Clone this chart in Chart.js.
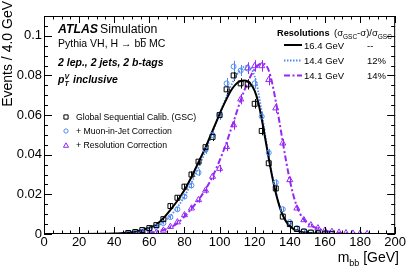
<!DOCTYPE html>
<html><head><meta charset="utf-8">
<script src="https://cdn.jsdelivr.net/npm/chart.js@4/dist/chart.umd.min.js"></script>
<style>html,body{margin:0;padding:0;background:#fff;}canvas{display:block;}</style>
</head><body>
<canvas id="c" width="407" height="276"></canvas>
<script>
// ---- data ----
const binCenters = [48,52,56,60,64,68,72,76,80,84,88,92,96,100,104,108,112,116,120,124,128,132,136,140,144,148,152,156,160,164,168,172,176,180,184];
const gscPoints = [0.0005,0.0010,0.0020,0.0030,0.0045,0.0075,0.0141,0.0183,0.0239,0.0300,0.0365,0.0438,0.0490,0.0600,0.0730,0.0800,0.0760,0.0755,0.0657,0.0520,0.0357,0.0230,0.0088,0.0050,0.0025,0.0012,0.0007,0.0004,0.0002,0.0001,null,null,null,null,null];
const gscErrors = [0.0002,0.0003,0.0004,0.0005,0.0006,0.0008,0.0011,0.0012,0.0014,0.0016,0.0018,0.0020,0.0021,0.0023,0.0026,0.0027,0.0026,0.0026,0.0024,0.0022,0.0018,0.0015,0.0009,0.0007,0.0005,0.0003,0.0002,0.0002,0.0001,0.0001,null,null,null,null,null];
const muonPoints = [0.0003,0.0006,0.0012,0.0020,0.0037,0.0055,0.0085,0.0125,0.0189,0.0245,0.0310,0.0424,0.0500,0.0600,0.0760,0.0845,0.0825,0.0835,0.0760,0.0593,0.0410,0.0260,0.0125,0.0060,0.0030,0.0015,0.0008,0.0004,0.0002,0.0001,null,null,null,null,null];
const muonErrors = [0.0002,0.0002,0.0003,0.0004,0.0006,0.0007,0.0009,0.0011,0.0013,0.0015,0.0017,0.0020,0.0022,0.0024,0.0027,0.0029,0.0028,0.0028,0.0027,0.0024,0.0020,0.0016,0.0011,0.0008,0.0005,0.0004,0.0003,0.0002,0.0001,0.0001,null,null,null,null,null];
const resoPoints = [null,null,0.0002,0.0004,0.0008,0.0018,0.0037,0.0060,0.0096,0.0130,0.0172,0.0220,0.0290,0.0330,0.0440,0.0550,0.0680,0.0837,0.0848,0.0848,0.0778,0.0635,0.0458,0.0273,0.0130,0.0071,0.0045,0.0030,0.0018,0.0012,0.0008,0.0005,0.0003,0.0002,0.0001];
const resoErrors = [null,null,0.0001,0.0002,0.0003,0.0004,0.0006,0.0008,0.0010,0.0012,0.0014,0.0016,0.0018,0.0019,0.0022,0.0024,0.0026,0.0029,0.0029,0.0029,0.0028,0.0025,0.0021,0.0016,0.0011,0.0008,0.0006,0.0005,0.0004,0.0003,0.0003,0.0002,0.0002,0.0001,0.0001];

const fitX = [0,20,40,44,48,52,56,60,64,68,72,76,80,84,88,92,96,100,102,104,106,108,110,112,114,116,118,120,122,124,126,128,130,132,134,136,138,140,142,144,146,148,152,156,160,166,172,180,200];
const gscFit = [0,0,0.0002,0.0004,0.0007,0.0012,0.0021,0.0032,0.0048,0.0080,0.0122,0.0168,0.0222,0.0288,0.0362,0.0437,0.0522,
  0.0605,0.0645,0.0682,0.0716,0.0743,0.0762,0.0772,0.0775,0.0770,0.0754,0.0722,0.0665,0.0580,0.0482,0.0382,0.0288,0.0208,0.0143,0.0094,0.0061,0.0040,0.0026,0.0017,0.0012,
  0.0008,0.0004,0.0002,0.0001,0,0,0,0];
const muonFit = [0,0,0.0001,0.0002,0.0004,0.0008,0.0014,0.0024,0.0038,0.0060,0.0092,0.0135,0.0190,0.0258,0.0335,0.0418,0.0512,
  0.0605,0.0650,0.0695,0.0737,0.0775,0.0806,0.0830,0.0845,0.0848,0.0835,0.0795,0.0720,0.0615,0.0500,0.0392,0.0295,0.0213,0.0148,0.0098,0.0065,0.0043,0.0028,0.0018,0.0013,
  0.0008,0.0004,0.0002,0.0001,0,0,0,0];
const resoFit = [0,0,0,0,0.0001,0.0002,0.0004,0.0007,0.0012,0.0020,0.0033,0.0055,0.0088,0.0128,0.0172,0.0225,0.0290,
  0.0370,0.0415,0.0462,0.0515,0.0568,0.0622,0.0675,0.0722,0.0765,0.0802,0.0832,0.0852,0.0860,0.0855,0.0825,0.0760,0.0670,0.0570,0.0465,0.0362,0.0272,0.0197,0.0140,0.0100,
  0.0073,0.0043,0.0027,0.0016,0.0008,0.0004,0.0001,0];

const seriesLabels = ['Global Sequential Calib. (GSC)','+ Muon-in-Jet Correction','+ Resolution Correction'];
const resolutionValues = ['16.4 GeV','14.4 GeV','14.1 GeV'];
const resolutionGains = ['--','12%','14%'];
const xTickStep = 20, yTickStep = 0.02;

// ---- styling ----
const FONT = '"Liberation Sans", Arial, Helvetica, sans-serif';
const BLACK = '#000000', BLUE = 'rgb(80,140,240)', VIOLET = 'rgb(150,40,245)';
const pts = (xs, ys) => xs.map((x, i) => ({x, y: ys[i]}));

function markerDs(label, ys, errs, color, style, r) {
  return {label, type:'line', data: pts(binCenters, ys), errs, showLine:false,
    borderColor: color, backgroundColor:'rgba(0,0,0,0)', pointStyle: style, pointRadius: r,
    pointBorderWidth: 1, pointBorderColor: color, pointBackgroundColor:'rgba(0,0,0,0)', order: 1};
}
function fitDs(ys, color, dash, w) {
  return {type:'line', data: pts(fitX, ys), borderColor: color, borderWidth: w, borderDash: dash,
    pointRadius: 0, fill:false, cubicInterpolationMode:'monotone', order: 2};
}

function drawMarker(ctx, style, x, y, r, color) {
  ctx.save(); ctx.strokeStyle = color; ctx.lineWidth = 1; ctx.beginPath();
  if (style === 'rect') { const s = Math.SQRT1_2 * r; ctx.rect(x - s, y - s, 2 * s, 2 * s); }
  else if (style === 'circle') { ctx.arc(x, y, r, 0, Math.PI * 2); }
  else { let a = 0; ctx.moveTo(x + Math.sin(a) * r, y - Math.cos(a) * r);
    a += 2 * Math.PI / 3; ctx.lineTo(x + Math.sin(a) * r, y - Math.cos(a) * r);
    a += 2 * Math.PI / 3; ctx.lineTo(x + Math.sin(a) * r, y - Math.cos(a) * r); ctx.closePath(); }
  ctx.stroke(); ctx.restore();
}
function txt(ctx, s, x, y, font, color, align) {
  ctx.font = font; ctx.fillStyle = color || '#000'; ctx.textAlign = align || 'left'; ctx.textBaseline = 'alphabetic';
  ctx.fillText(s, x, y); return ctx.measureText(s).width;
}

const overlay = {
  id: 'overlay',
  beforeDatasetsDraw(chart) {
    const {ctx, chartArea: a, scales: {x, y}} = chart;
    ctx.save(); ctx.beginPath(); ctx.rect(a.left, a.top, a.right - a.left, a.bottom - a.top); ctx.clip();
    chart.data.datasets.forEach(ds => {
      if (!ds.errs) return;
      ctx.strokeStyle = ds.borderColor; ctx.lineWidth = 1;
      ds.data.forEach((p, i) => {
        const e = ds.errs[i]; if (p.y == null || e == null) return;
        const px = Math.round(x.getPixelForValue(p.x)) + 0.5;
        ctx.beginPath(); ctx.moveTo(px, y.getPixelForValue(p.y - e)); ctx.lineTo(px, y.getPixelForValue(p.y + e)); ctx.stroke();
      });
    });
    ctx.restore();
  },
  afterDraw(chart) {
    const {ctx, chartArea: a, scales: {x, y}} = chart;
    ctx.save();
    ctx.strokeStyle = '#000'; ctx.lineWidth = 1;
    ctx.strokeRect(a.left + 0.5, a.top + 0.5, a.right - a.left - 1, a.bottom - a.top - 1);
    ctx.beginPath();
    for (let v = 0; v <= 200 + 1e-9; v += 5) {
      const len = (Math.round(v) % 20 === 0) ? 7 : 3.5;
      const px = Math.round(x.getPixelForValue(v)) + 0.5;
      ctx.moveTo(px, a.bottom); ctx.lineTo(px, a.bottom - len);
      ctx.moveTo(px, a.top); ctx.lineTo(px, a.top + len);
    }
    for (let k = 0; k <= 22; k++) {
      const v = k * 0.005; const len = (k % 4 === 0) ? 8 : 4;
      const py = Math.round(y.getPixelForValue(v)) + 0.5;
      ctx.moveTo(a.left, py); ctx.lineTo(a.left + len, py);
      ctx.moveTo(a.right, py); ctx.lineTo(a.right - len, py);
    }
    ctx.stroke();

    // y title
    ctx.save(); ctx.translate(12, 1); ctx.rotate(-Math.PI / 2);
    txt(ctx, 'Events / 4.0 GeV', 0, 0, '14px ' + FONT, '#000', 'right'); ctx.restore();
    // x title m_bb [GeV]
    ctx.font = '14px ' + FONT; const wG = ctx.measureText(' [GeV]').width, wm = ctx.measureText('m').width;
    ctx.font = '9px ' + FONT; const wb = ctx.measureText('bb').width;
    let xt = 399 - wG - wb - wm;
    xt += txt(ctx, 'm', xt, 262, '14px ' + FONT);
    xt += txt(ctx, 'bb', xt, 266, '9px ' + FONT);
    txt(ctx, ' [GeV]', xt, 262, '14px ' + FONT);

    // ATLAS label block
    txt(ctx, 'ATLAS', 58, 33, 'italic bold 12.3px ' + FONT);
    txt(ctx, 'Simulation', 100, 33, '12.3px ' + FONT);
    let px0 = 58;
    px0 += txt(ctx, 'Pythia VH, H \u2192 b', px0, 47, '10.5px ' + FONT);
    const wbb = txt(ctx, 'b', px0, 47, '10.5px ' + FONT);
    ctx.beginPath(); ctx.moveTo(px0, 38.5); ctx.lineTo(px0 + wbb, 38.5); ctx.strokeStyle = '#000'; ctx.lineWidth = 0.8; ctx.stroke();
    txt(ctx, ' MC', px0 + wbb, 47, '10.5px ' + FONT);
    txt(ctx, '2 lep., 2 jets, 2 b-tags', 58, 66, 'italic bold 10.5px ' + FONT);
    txt(ctx, 'p', 58, 83, 'italic bold 10.5px ' + FONT);
    txt(ctx, 'V', 64.5, 79, 'italic bold 7px ' + FONT);
    txt(ctx, 'T', 64.5, 86, 'italic bold 7px ' + FONT);
    txt(ctx, 'inclusive', 73, 83, 'italic bold 10.5px ' + FONT);

    // left legend
    const lf = '8.7px ' + FONT;
    const styles = ['rect', 'circle', 'triangle'], cols = [BLACK, BLUE, VIOLET], rads = [3.5, 2.5, 3.5], ly = [117, 131, 145];
    for (let i = 0; i < 3; i++) {
      drawMarker(ctx, styles[i], 66, ly[i] + (i === 2 ? 0.8 : 0), rads[i] * 0.85, cols[i]);
      txt(ctx, seriesLabels[i], 76, ly[i] + 3, lf);
    }
    // right legend
    txt(ctx, 'Resolutions', 277, 36, 'bold 9.2px ' + FONT);
    const hf = '9.5px ' + FONT, sf = '6.5px ' + FONT;
    let hx = 334;
    hx += txt(ctx, '(\u03c3', hx, 36, hf);
    hx += txt(ctx, 'GSC', hx, 38.5, sf);
    hx += txt(ctx, '-\u03c3)/\u03c3', hx, 36, hf);
    txt(ctx, 'GSC', hx, 38.5, sf);
    const ry = [45, 60.5, 75.5], dashes = [[], [1.5, 1.5], [6, 2.5, 2, 2.5]], widths = [2, 1.8, 2];
    for (let i = 0; i < 3; i++) {
      ctx.save(); ctx.strokeStyle = cols[i]; ctx.lineWidth = widths[i]; ctx.setLineDash(dashes[i]);
      ctx.beginPath(); ctx.moveTo(284, ry[i]); ctx.lineTo(302, ry[i]); ctx.stroke(); ctx.restore();
      txt(ctx, resolutionValues[i], 304, ry[i] + 3.5, '9.5px ' + FONT);
      txt(ctx, resolutionGains[i], 367, ry[i] + 3.5, '9.5px ' + FONT);
    }
    ctx.restore();
  }
};

new Chart(document.getElementById('c'), {
  type: 'line',
  data: { datasets: [
    markerDs(seriesLabels[0], gscPoints, gscErrors, BLACK, 'rect', 3.5),
    markerDs(seriesLabels[1], muonPoints, muonErrors, BLUE, 'circle', 2.5),
    markerDs(seriesLabels[2], resoPoints, resoErrors, VIOLET, 'triangle', 3.5),
    fitDs(gscFit, BLACK, [], 2),
    fitDs(muonFit, BLUE, [1.5, 1.5], 1.8),
    fitDs(resoFit, VIOLET, [6, 2.5, 2, 2.5], 2)
  ]},
  options: {
    responsive: false, animation: false, devicePixelRatio: 1,
    layout: { padding: { left: 0, right: 10, top: 16, bottom: 0 } },
    plugins: { legend: { display: false }, tooltip: { enabled: false }, title: { display: false } },
    scales: {
      x: { type: 'linear', min: 0, max: 200,
        grid: { display: false, drawTicks: false }, border: { display: false },
        ticks: { stepSize: xTickStep, autoSkip: false, maxRotation: 0, padding: 1, color: '#000', font: { family: FONT, size: 13 } },
        afterFit(s) { s.height = 42; } },
      y: { type: 'linear', min: 0, max: 0.11,
        grid: { display: false, drawTicks: false }, border: { display: false },
        ticks: { stepSize: yTickStep, includeBounds: false, autoSkip: false, padding: 2, color: '#000', font: { family: FONT, size: 13 } ,
          callback: v => String(parseFloat(Number(v).toFixed(3))) },
        afterFit(s) { s.width = 44; } }
    }
  },
  plugins: [overlay]
});
</script>
</body></html>
